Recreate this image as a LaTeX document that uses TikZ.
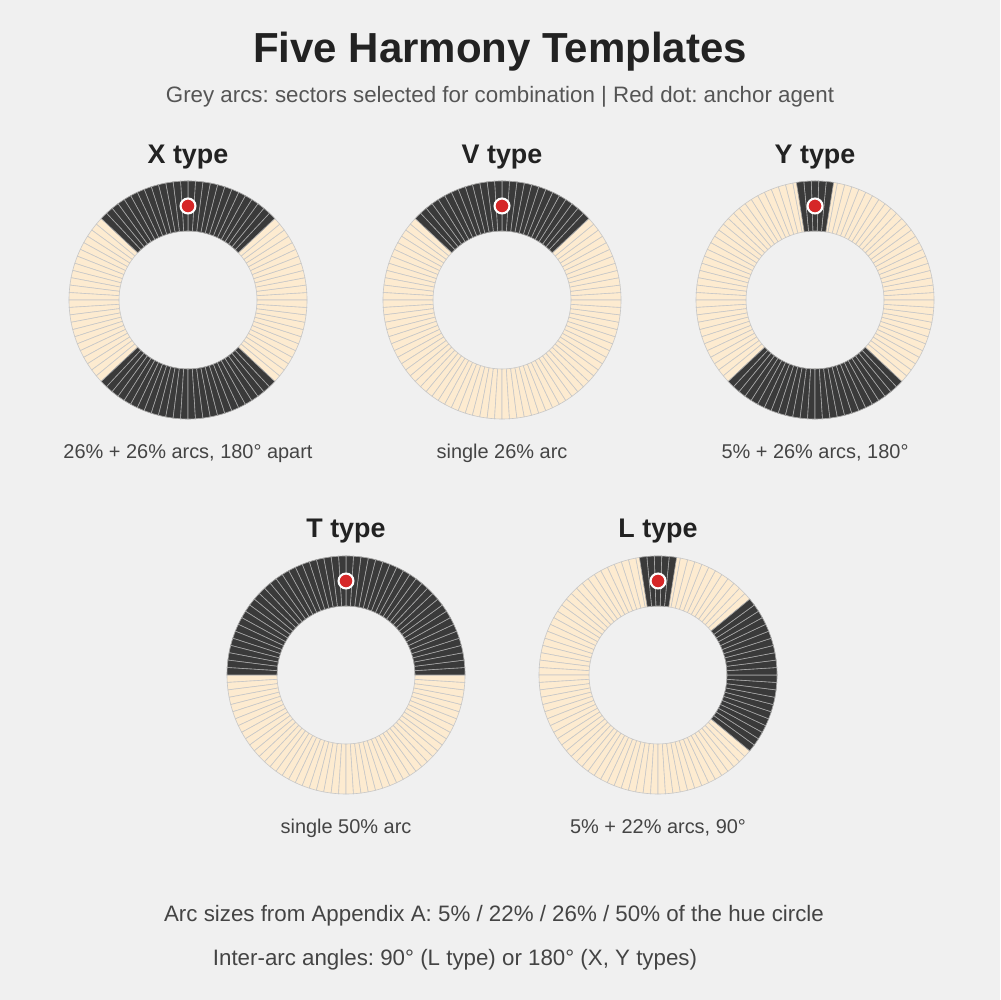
\documentclass[tikz,border=0pt]{standalone}
\usepackage{fontspec}
\setmainfont{Liberation Sans}
\usetikzlibrary{positioning}
\frenchspacing
\definecolor{bgcol}{HTML}{F0F0F0}
\definecolor{darkarc}{HTML}{3A3A3A}
\definecolor{lightarc}{HTML}{FDEBD0}
\definecolor{edgecol}{HTML}{C8C8C8}
\definecolor{anchorred}{HTML}{D62728}
\definecolor{titlecol}{HTML}{222222}
\definecolor{subcol}{HTML}{555555}
\definecolor{capcol}{HTML}{444444}
\tikzset{
light sector/.style={fill=lightarc, draw=edgecol, line width=0.35pt},
dark sector/.style={fill=darkarc, draw=black!35, line width=0.35pt},
anchor dot/.style={circle, draw=white, fill=anchorred, line width=1.2pt, inner sep=0pt, minimum size=8.5pt},
main title/.style={anchor=base, inner sep=0pt, text=titlecol, font=\bfseries\fontsize{23.9}{28}\selectfont},
sub title/.style={anchor=base, inner sep=0pt, text=subcol, font=\fontsize{12.7}{15}\selectfont},
type title/.style={anchor=base, inner sep=0pt, text=titlecol, font=\bfseries\fontsize{15.3}{18}\selectfont},
caption/.style={anchor=base, inner sep=0pt, text=capcol, font=\fontsize{11.35}{14}\selectfont},
}
% one sector of 3.6 degrees: centre x, centre y, start angle, style
\newcommand{\hsector}[4]{%
  \path[#4, shift={(#1,#2)}] (#3:69) -- (#3:119)
    arc[start angle=#3, delta angle=3.6, radius=119] -- ({#3+3.6}:69)
    arc[start angle={#3+3.6}, delta angle=-3.6, radius=69] -- cycle;
}
% full hue circle of 100 sectors
\newcommand{\huering}[2]{%
  \foreach \k in {0,...,99} {
    \pgfmathsetmacro\a{3.6*\k}
    \hsector{#1}{#2}{\a}{light sector}
  }
}
% selected arc: centre x, centre y, first angle, number of sectors
\newcommand{\selarc}[4]{%
  \foreach \k in {1,...,#4} {
    \pgfmathsetmacro\a{#3+3.6*(\k-1)}
    \hsector{#1}{#2}{\a}{dark sector}
  }
}

\begin{document}
\begin{tikzpicture}[x=0.02cm, y=0.02cm]
    \fill[bgcol] (0,0) rectangle (1000,1000);
    \useasboundingbox (0,0) rectangle (1000,1000);

    %titles
    \node[main title] (title) at (500,937) {Five Harmony Templates};
    \node[sub title] (subtitle) at (500,897) {Grey arcs: sectors selected for combination | Red dot: anchor agent};

    %X type
    \huering{188}{700}
    \selarc{188}{700}{43.2}{26}
    \selarc{188}{700}{223.2}{26}
    \node[anchor dot] (xdot) at (188,794) {};
    \node[type title] (xtitle) at (188,836.5) {X type};
    \node[caption] (xcap) at (188,541) {26\% + 26\% arcs, 180° apart};

    %V type
    \huering{502}{700}
    \selarc{502}{700}{43.2}{26}
    \node[anchor dot] (vdot) at (502,794) {};
    \node[type title] (vtitle) at (502,836.5) {V type};
    \node[caption] (vcap) at (502,541) {single 26\% arc};

    %Y type
    \huering{815}{700}
    \selarc{815}{700}{81}{5}
    \selarc{815}{700}{223.2}{26}
    \node[anchor dot] (ydot) at (815,794) {};
    \node[type title] (ytitle) at (815,836.5) {Y type};
    \node[caption] (ycap) at (815,541) {5\% + 26\% arcs, 180°};

    %T type
    \huering{346}{325}
    \selarc{346}{325}{0}{50}
    \node[anchor dot] (tdot) at (346,419) {};
    \node[type title] (ttitle) at (346,462.5) {T type};
    \node[caption] (tcap) at (346,166) {single 50\% arc};

    %L type
    \huering{658}{325}
    \selarc{658}{325}{81}{5}
    \selarc{658}{325}{-39.6}{22}
    \node[anchor dot] (ldot) at (658,419) {};
    \node[type title] (ltitle) at (658,462.5) {L type};
    \node[caption] (lcap) at (658,166) {5\% + 22\% arcs, 90°};

    %notes
    \node[sub title, text=capcol] (note1) at (494,78) {Arc sizes from Appendix A: 5\% / 22\% / 26\% / 50\% of the hue circle};
    \node[sub title, text=capcol] (note2) at (455,34) {Inter-arc angles: 90° (L type) or 180° (X, Y types)};
\end{tikzpicture}
\end{document}
